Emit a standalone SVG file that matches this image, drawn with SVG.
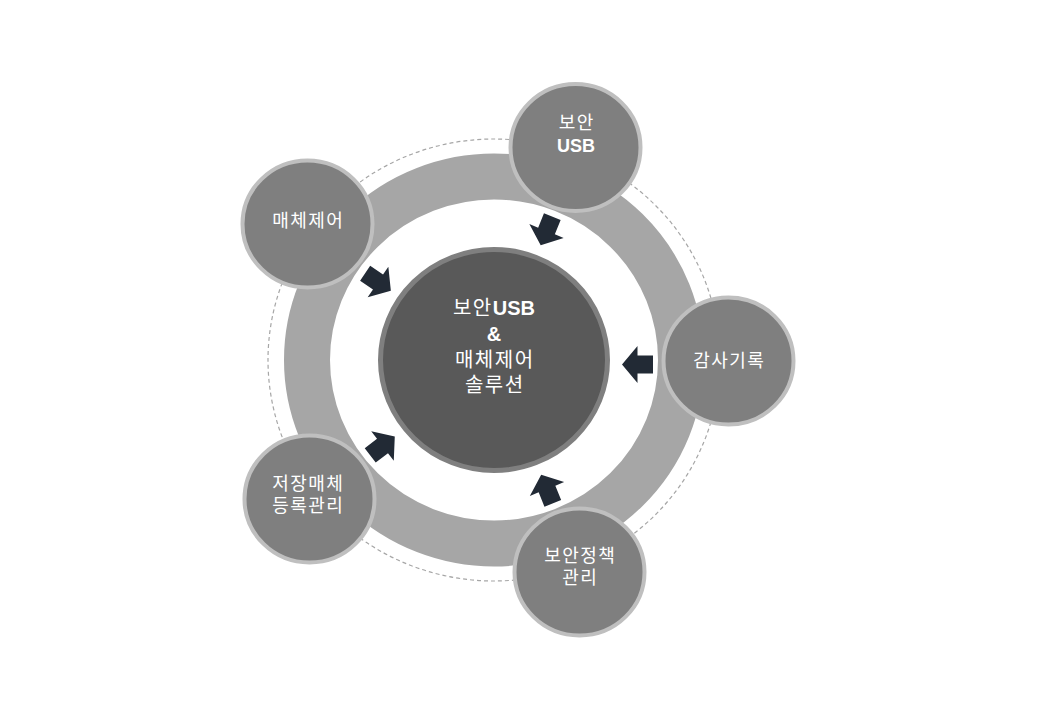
<svg xmlns="http://www.w3.org/2000/svg" width="1040" height="720" viewBox="0 0 1040 720">
  <style>
    .sat { fill: #7f7f7f; stroke: #bfbfbf; stroke-width: 4; }
    .hub { fill: #595959; stroke: #7f7f7f; stroke-width: 5; }
    .ring { fill: none; stroke: #a6a6a6; stroke-width: 46; }
    .dash { fill: none; stroke: #a6a6a6; stroke-width: 1.2; stroke-dasharray: 4 3; }
    .arrow { fill: #222a35; }
    text { font-family: "Liberation Sans", "Noto Sans CJK KR", sans-serif; fill: #ffffff; text-anchor: middle; }
    .st { font-size: 18px; letter-spacing: 1.5px; }
    .ht { font-size: 20px; letter-spacing: 1.5px; }
    .b { font-weight: bold; letter-spacing: 0; }
  </style>
  <defs>
    <path id="arr" d="M-15.5,-9 L0,-9 L0,-18.5 L15.5,0 L0,18.5 L0,9 L-15.5,9 Z"/>
  </defs>
  <rect width="1040" height="720" fill="#ffffff"/>

  <g id="background">
    <ellipse class="dash" cx="494" cy="360" rx="226" ry="221"/>
    <ellipse class="ring" cx="494" cy="360" rx="187" ry="183.5"/>
  </g>

  <g id="hub">
    <ellipse class="hub" cx="494" cy="360" rx="113.5" ry="110.5"/>
    <text class="ht" x="494" y="315">보안<tspan class="b">USB</tspan></text>
    <text class="ht b" x="494" y="341">&amp;</text>
    <text class="ht" x="494.75" y="366.5">매체제어</text>
    <text class="ht" x="494.75" y="392">솔루션</text>
  </g>

  <g id="connectors">
    <use href="#arr" class="arrow" transform="translate(546.5,231) rotate(112)"/>
    <use href="#arr" class="arrow" transform="translate(637.5,364.5) rotate(180)"/>
    <use href="#arr" class="arrow" transform="translate(547,489) rotate(-112)"/>
    <use href="#arr" class="arrow" transform="translate(382.5,446) rotate(-37.6)"/>
    <use href="#arr" class="arrow" transform="translate(378,282) rotate(34)"/>
  </g>

  <g id="node-usb">
    <ellipse class="sat" cx="575.5" cy="147.5" rx="65" ry="63.5"/>
    <text class="st" x="576.75" y="129">보안</text>
    <text class="st b" x="576" y="151.5">USB</text>
  </g>

  <g id="node-audit">
    <ellipse class="sat" cx="728.5" cy="361" rx="65" ry="63.5"/>
    <text class="st" x="729.25" y="366.5">감사기록</text>
  </g>

  <g id="node-policy">
    <ellipse class="sat" cx="579.5" cy="572" rx="65" ry="63.5"/>
    <text class="st" x="580.25" y="562">보안정책</text>
    <text class="st" x="580.25" y="584">관리</text>
  </g>

  <g id="node-storage">
    <ellipse class="sat" cx="309.5" cy="499" rx="65" ry="63.5"/>
    <text class="st" x="308.25" y="490">저장매체</text>
    <text class="st" x="308.25" y="512">등록관리</text>
  </g>

  <g id="node-media">
    <ellipse class="sat" cx="307.5" cy="224" rx="65" ry="63.5"/>
    <text class="st" x="308.25" y="226.5">매체제어</text>
  </g>
</svg>
